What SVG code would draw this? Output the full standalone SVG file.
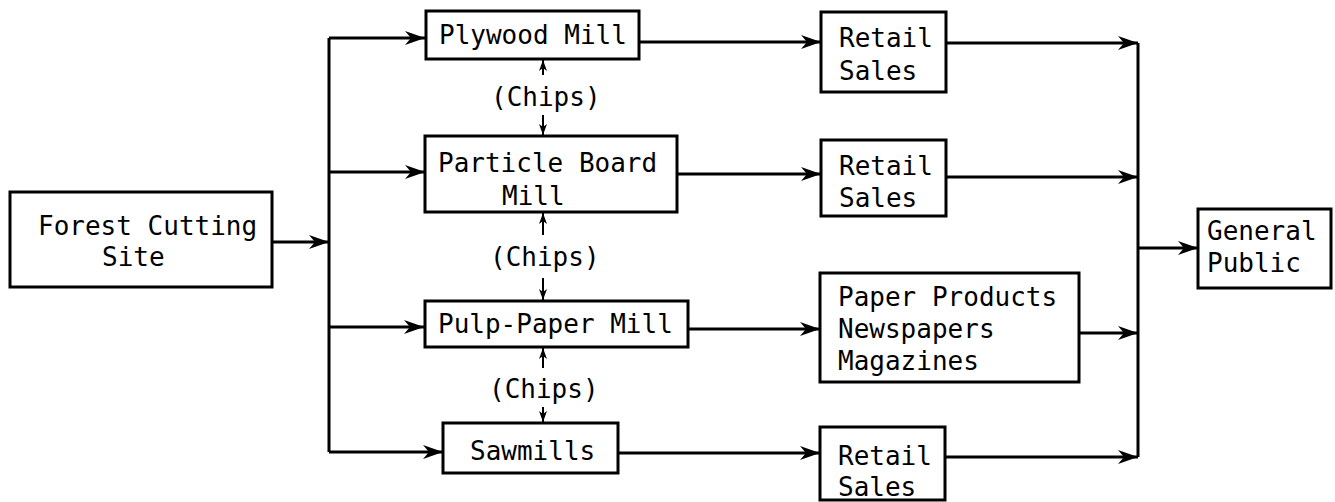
<svg xmlns="http://www.w3.org/2000/svg" width="1335" height="502" viewBox="0 0 1335 502">
<style>
.box{fill:#fff;stroke:#000;stroke-width:3}
.t{font-family:"DejaVu Sans Mono","Liberation Mono",monospace;font-size:26px;fill:#000}
.c{fill:none;stroke:#000;stroke-width:3}
.s{fill:none;stroke:#000;stroke-width:2}
</style>
<defs>
<marker id="arr" markerUnits="userSpaceOnUse" markerWidth="22" markerHeight="16" refX="20" refY="7" orient="auto">
<path d="M0,0 L20,7 L0,14 L6,7 Z" fill="#000"/>
</marker>
<marker id="sarr" markerUnits="userSpaceOnUse" markerWidth="12" markerHeight="10" refX="11" refY="4" orient="auto">
<path d="M0,0 L11,4 L0,8 L3,4 Z" fill="#000"/>
</marker>
</defs>
<rect width="1335" height="502" fill="#fff"/>
<g id="connectors">
<line class="c" x1="272" y1="242" x2="329" y2="242" marker-end="url(#arr)"/>
<path class="c" d="M329,38 L329,452"/>
<line class="c" x1="329" y1="38" x2="425" y2="38" marker-end="url(#arr)"/>
<line class="c" x1="329" y1="172" x2="425" y2="172" marker-end="url(#arr)"/>
<line class="c" x1="329" y1="327" x2="424" y2="327" marker-end="url(#arr)"/>
<line class="c" x1="329" y1="452" x2="443" y2="452" marker-end="url(#arr)"/>
<line class="c" x1="639" y1="42" x2="821" y2="42" marker-end="url(#arr)"/>
<line class="c" x1="677" y1="174" x2="821" y2="174" marker-end="url(#arr)"/>
<line class="c" x1="688" y1="329" x2="820" y2="329" marker-end="url(#arr)"/>
<line class="c" x1="618" y1="453" x2="820" y2="453" marker-end="url(#arr)"/>
<line class="c" x1="946" y1="43" x2="1138" y2="43" marker-end="url(#arr)"/>
<line class="c" x1="946" y1="177" x2="1138" y2="177" marker-end="url(#arr)"/>
<line class="c" x1="1079" y1="333" x2="1138" y2="333" marker-end="url(#arr)"/>
<line class="c" x1="945" y1="457" x2="1138" y2="457" marker-end="url(#arr)"/>
<path class="c" d="M1138,43 L1138,457"/>
<line class="c" x1="1138" y1="248" x2="1198" y2="248" marker-end="url(#arr)"/>
<line class="s" x1="543" y1="75" x2="543" y2="60" marker-end="url(#sarr)"/>
<line class="s" x1="543" y1="115" x2="543" y2="135" marker-end="url(#sarr)"/>
<line class="s" x1="543" y1="235" x2="543" y2="213" marker-end="url(#sarr)"/>
<line class="s" x1="543" y1="278" x2="543" y2="300" marker-end="url(#sarr)"/>
<line class="s" x1="543" y1="368" x2="543" y2="348" marker-end="url(#sarr)"/>
<line class="s" x1="543" y1="407" x2="543" y2="422" marker-end="url(#sarr)"/>
<text class="t" x="491" y="106">(Chips)</text>
<text class="t" x="490" y="266">(Chips)</text>
<text class="t" x="489" y="398">(Chips)</text>
</g>
<g id="forest">
<rect class="box" x="10" y="192" width="262" height="95"/>
<text class="t" x="38" y="235">Forest Cutting</text>
<text class="t" x="102" y="266">Site</text>
</g>
<g id="plywood">
<rect class="box" x="426" y="11" width="213" height="48"/>
<text class="t" x="439" y="44">Plywood Mill</text>
</g>
<g id="particle">
<rect class="box" x="425" y="136" width="252" height="76"/>
<text class="t" x="438" y="172">Particle Board</text>
<text class="t" x="502" y="205">Mill</text>
</g>
<g id="pulp">
<rect class="box" x="425" y="301" width="263" height="46"/>
<text class="t" x="438" y="333">Pulp-Paper Mill</text>
</g>
<g id="sawmills">
<rect class="box" x="443" y="423" width="175" height="50"/>
<text class="t" x="470" y="460">Sawmills</text>
</g>
<g id="retail1">
<rect class="box" x="821" y="12" width="125" height="80"/>
<text class="t" x="839" y="47">Retail</text>
<text class="t" x="839" y="80">Sales</text>
</g>
<g id="retail2">
<rect class="box" x="821" y="140" width="125" height="76"/>
<text class="t" x="839" y="175">Retail</text>
<text class="t" x="839" y="207">Sales</text>
</g>
<g id="paper">
<rect class="box" x="820" y="273" width="259" height="109"/>
<text class="t" x="838" y="306">Paper Products</text>
<text class="t" x="838" y="338">Newspapers</text>
<text class="t" x="838" y="370">Magazines</text>
</g>
<g id="retail3">
<rect class="box" x="820" y="427" width="125" height="73"/>
<text class="t" x="838" y="465">Retail</text>
<text class="t" x="838" y="496">Sales</text>
</g>
<g id="public">
<rect class="box" x="1198" y="209" width="133" height="79"/>
<text class="t" x="1207" y="240">General</text>
<text class="t" x="1207" y="272">Public</text>
</g>
</svg>
